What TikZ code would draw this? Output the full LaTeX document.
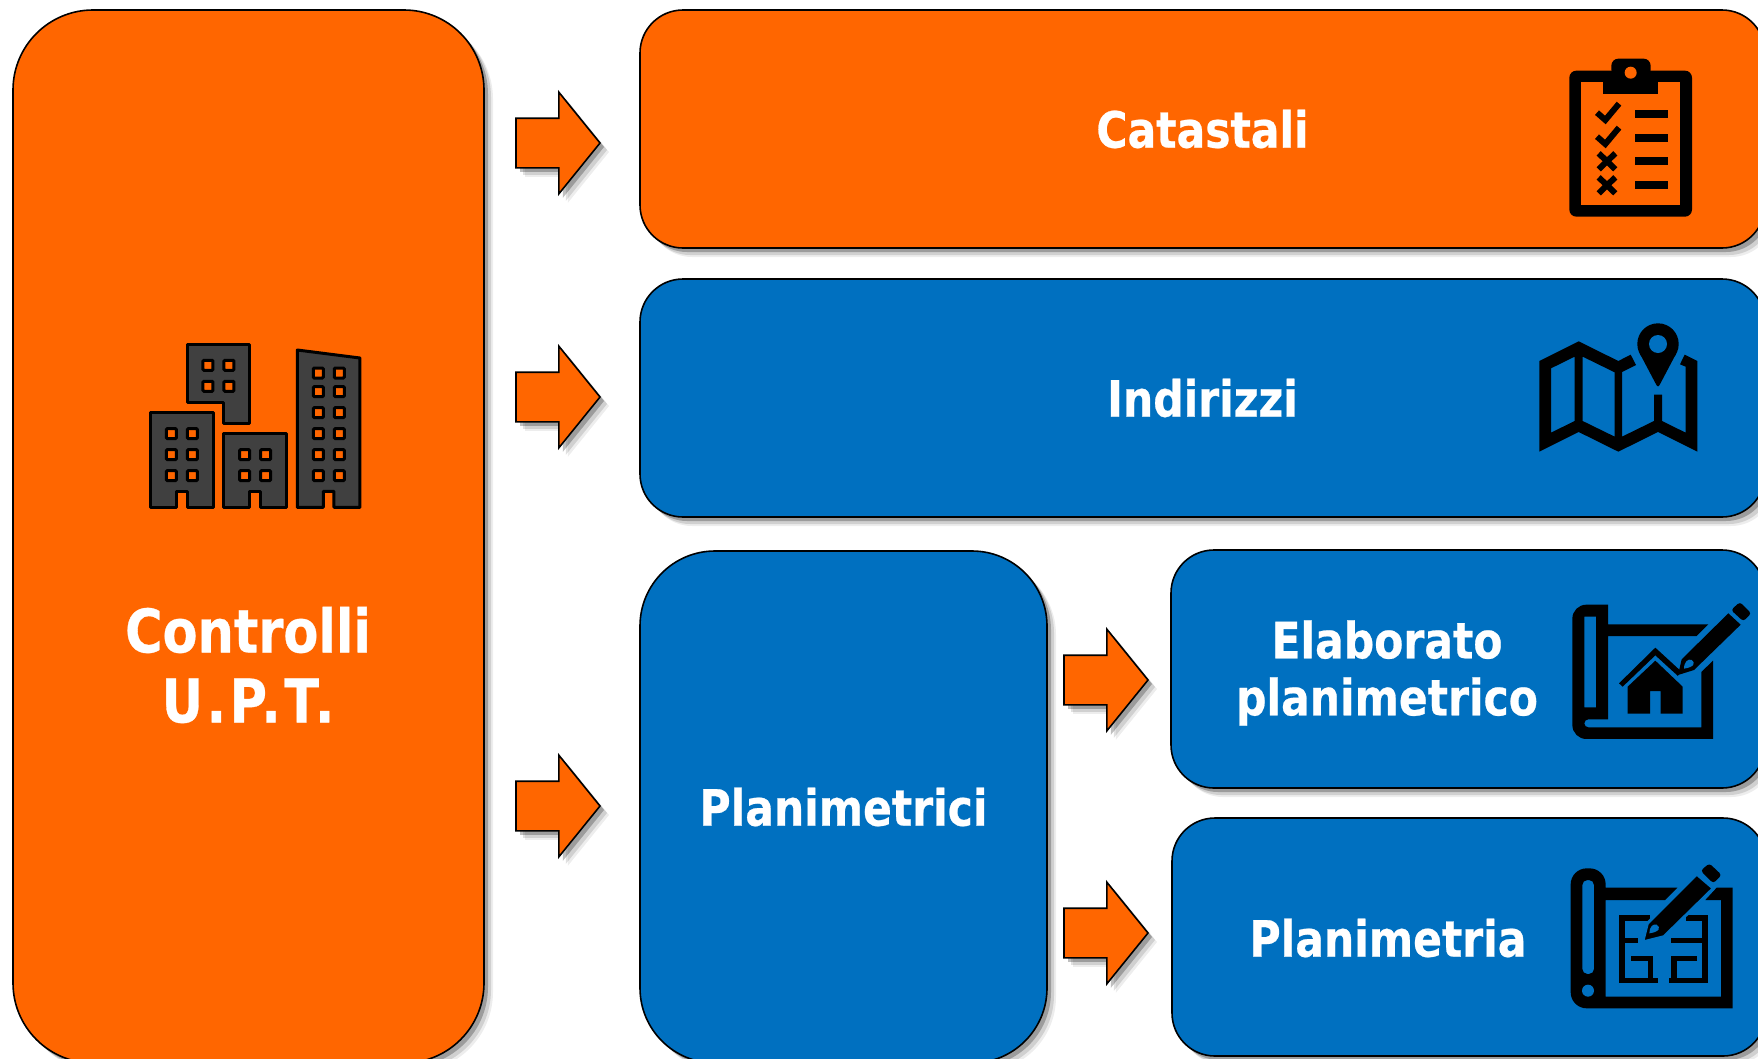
\documentclass[tikz,border=0pt]{standalone}
\usepackage{fontspec}
\setmainfont[FakeStretch=0.85, BoldFeatures={FakeBold=0.5}]{DejaVu Sans}
\usetikzlibrary{positioning, shapes.arrows, shadows}
\definecolor{uptorange}{HTML}{FF6600}
\definecolor{uptblue}{HTML}{0070C0}
\definecolor{uptgrey}{HTML}{404040}

\begin{document}
\begin{tikzpicture}[
    x = 1pt,
    y = 1pt,
    softshadow/.style = {drop shadow = {shadow xshift = 9pt, shadow yshift = -9pt, fill = black, opacity = .07},
                         drop shadow = {shadow xshift = 7pt, shadow yshift = -7pt, fill = black, opacity = .12},
                         drop shadow = {shadow xshift = 4pt, shadow yshift = -4pt, fill = black, opacity = .25}},
    panel/.style = {rectangle, draw, line width = 1.6pt, outer sep = 0pt, text = white, inner sep = 0pt,
                    align = center, softshadow},
    orangebox/.style = {panel, fill = uptorange},
    bluebox/.style = {panel, fill = uptblue},
    widebox/.style = {minimum width = 1125pt, minimum height = 238pt, rounded corners = 43pt},
    smallbox/.style = {minimum width = 594pt, minimum height = 238pt, rounded corners = 43pt},
    boxtext/.style = {font = \fontsize{50}{57}\selectfont\bfseries},
    bigtext/.style = {font = \fontsize{60}{70}\selectfont\bfseries},
    blockarrow/.style = {single arrow, draw, line width = 1.6pt, fill = uptorange, outer sep = 0pt,
                         inner xsep = 0pt, inner ysep = 24pt, minimum height = 84pt,
                         single arrow head extend = 26pt, single arrow head indent = 0pt,
                         single arrow tip angle = 102, softshadow},
    building/.style = {draw = black, fill = uptgrey, line width = 3pt, line join = round},
    window/.style = {draw = black, fill = uptorange, line width = 3pt, rounded corners = 1pt}
]
\clip (0,0) rectangle (1758,-1058);

% Boxes
\node[orangebox, minimum width = 471pt, minimum height = 1053pt, rounded corners = 80pt] (upt) at (248.5,-536.5) {};
\node[orangebox, widebox, boxtext] (cat) at (1202.5,-129) {Catastali};
\node[bluebox, widebox, boxtext, below = 31pt of cat] (ind) {Indirizzi};
\node[bluebox, boxtext, minimum width = 407pt, minimum height = 512pt, rounded corners = 75pt,
      below = 34pt of ind.south west, anchor = north west] (plani) {Planimetrici};
\node[bluebox, smallbox, right = 124pt of plani.north east, anchor = north west, yshift = 1pt] (elab) {};
\node[bluebox, smallbox, below = 30pt of elab, xshift = 1pt] (planim) {};

% Texts set apart from the box centre
\node[bigtext, text = white, align = center] (uptText) at (248,-665) {Controlli\\\addfontfeature{LetterSpace=6}U.P.T.};
\node[boxtext, text = white, align = center] (elabText) at (1387,-673) {Elaborato\\planimetrico};
\node[boxtext, text = white] (planimText) at (1388,-938) {Planimetria};

% Arrows
\node[blockarrow, left = 40pt of cat, yshift = -14pt] (arrCat) {};
\node[blockarrow, left = 40pt of ind, yshift = 1pt]   (arrInd) {};
\node[blockarrow, left = 40pt of plani, yshift = 1pt] (arrPlani) {};
\node[blockarrow, left = 23pt of elab, yshift = -11pt]  (arrElab) {};
\node[blockarrow, left = 24pt of planim, yshift = 4pt]  (arrPlanim) {};

% City icon
\begin{scope}[shift = {(130,-330)}, x = .3333pt, y = -.3333pt]
  \draw[building] (172,44) -- (360,44) -- (360,280) -- (282,280) -- (282,216) -- (172,216) -- cycle;
  \draw[building] (62,248) -- (250,248) -- (250,532) -- (172,532) -- (172,484) -- (140,484) -- (140,532) -- (62,532) -- cycle;
  \draw[building] (282,311) -- (470,311) -- (470,532) -- (392,532) -- (392,484) -- (360,484) -- (360,532) -- (282,532) -- cycle;
  \draw[building] (502,60) -- (690,84) -- (690,532) -- (612,532) -- (612,484) -- (580,484) -- (580,532) -- (502,532) -- cycle;
  \foreach \wx/\wy in {234/106, 297/106, 234/169, 297/169,
                       124/311, 187/311, 124/374, 187/374, 124/437, 187/437,
                       344/374, 407/374, 344/437, 407/437,
                       565/129, 628/129, 565/185, 628/185, 565/248, 628/248,
                       565/311, 628/311, 565/374, 628/374, 565/437, 628/437}
    \draw[window] (\wx-15,\wy-15) rectangle (\wx+15,\wy+15);
\end{scope}

% Clipboard icon
\begin{scope}[shift = {(1530,-40)}, x = .3333pt, y = -.3333pt]
  \fill[rounded corners = 7pt] (118,92) rectangle (486,530);
  \fill[uptorange] (153,127) rectangle (451,495);
  \fill (219,92) rectangle (385,163);
  \fill[rounded corners = 7pt] (244,110) -- (244,56) -- (362,56) -- (362,110) -- cycle;
  \fill[uptorange] (302,98) circle (6pt);
  \foreach \ly in {222, 293, 364, 435} \fill (314,\ly-12) rectangle (415,\ly+12);
  \foreach \ly in {0, 72} \draw[line width = 6pt] (201,218+\ly) -- (226,240+\ly) -- (267,191+\ly);
  \foreach \ly in {364, 436} \draw[line width = 6pt] (206,\ly-24) -- (256,\ly+24) (256,\ly-24) -- (206,\ly+24);
\end{scope}

% Map icon
\begin{scope}[shift = {(1510,-310)}, x = .3333pt, y = -.3333pt]
  \fill[even odd rule] (88,153) -- (206,94) -- (325,153) -- (362,134) -- (378,165) -- (336,186) -- (336,380)
    -- (432,333) -- (432,254) -- (456,254) -- (456,333) -- (527,368) -- (527,170) -- (510,163) -- (524,134)
    -- (562,153) -- (562,425) -- (444,366) -- (325,425) -- (206,366) -- (88,425) -- cycle
    (123,175) -- (194,140) -- (194,333) -- (123,368) -- cycle
    (218,140) -- (314,187) -- (314,380) -- (218,333) -- cycle;
  \fill (444,102) circle (20.7pt);
  \fill[rounded corners = 3pt] (386,124) -- (444,234) -- (502,124) -- cycle;
  \fill[uptblue] (444,102) circle (9pt);
\end{scope}

% Elaborato icon
\begin{scope}[shift = {(1550,-590)}, x = .3333pt, y = -.3333pt]
  \fill[even odd rule] (174,103) -- (475,103) -- (440,138) -- (174,138) -- (174,388) [rounded corners = 4pt] -- (103,388)
    -- (103,412) [sharp corners] -- (454,412) -- (454,246) -- (489,212) -- (489,447) [rounded corners = 14pt]
    -- (67,447) -- (67,44) [sharp corners] -- (174,44) -- cycle
    (103,80) -- (138,80) -- (138,352) -- (103,352) -- cycle;
  \fill (207,280) -- (316,173) -- (389,240) -- (384,258) -- (316,196) -- (218,290) -- cycle;
  \fill (233,290) -- (316,212) -- (398,290) -- (398,371) -- (332,371) -- (332,303) -- (300,303) -- (300,371) -- (233,371) -- cycle;
  \fill (384,255) -- (395,208) -- (535,70) -- (572,104) -- (432,240) -- cycle;
  \fill[rounded corners = 3pt] (543,60) -- (570,36) -- (604,70) -- (580,94) -- cycle;
  \fill[uptblue] (402,236) .. controls (402,215) and (415,205) .. (425,210) .. controls (438,218) and (432,232) .. cycle;
\end{scope}

% Planimetria icon
\begin{scope}[shift = {(1550,-850)}, x = .3333pt, y = -.3333pt]
  \fill[even odd rule] (167,113) -- (382,113) -- (345,150) -- (167,150) -- (167,440) -- (513,440) -- (513,150) -- (466,150)
    -- (500,113) -- (548,113) -- (548,475) [rounded corners = 16pt] -- (62,475) -- (62,55) -- (167,55) [sharp corners] -- cycle
    [rounded corners = 5pt] (97,90) -- (132,90) -- (132,372) -- (97,372) -- cycle;
  \fill[uptblue] (114,422) circle (6pt);
  \foreach \ax/\ay/\bx/\by in {207/195/225/400, 207/195/300/212, 408/195/475/212, 457/195/475/400,
                               207/263/265/280, 363/263/475/280, 243/317/310/333, 293/317/310/400,
                               363/317/440/333, 363/317/380/400, 207/383/325/400, 358/383/475/400}
    \fill (\ax,\ay) rectangle (\bx,\by);
  \fill[draw = uptblue, line width = 3pt, line join = round] (278,276) -- (292,220) -- (440,72) -- (490,115) -- (342,260) -- cycle;
  \fill[rounded corners = 3pt] (452,62) -- (478,40) -- (515,75) -- (490,100) -- cycle;
  \fill[uptblue] (298,250) .. controls (298,230) and (310,220) .. (320,224) .. controls (334,232) and (328,246) .. cycle;
\end{scope}

\end{tikzpicture}
\end{document}
